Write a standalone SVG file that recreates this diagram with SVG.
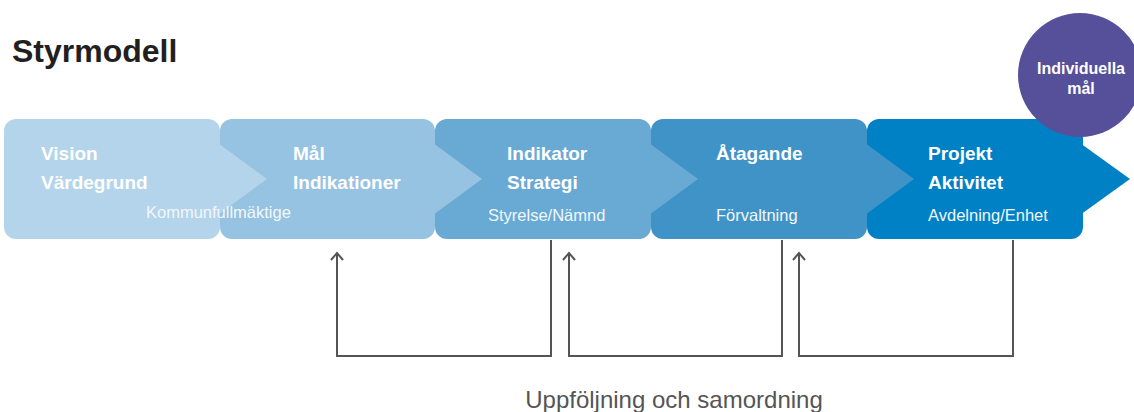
<svg xmlns="http://www.w3.org/2000/svg" width="1134" height="412" viewBox="0 0 1134 412">
<style>
.h{font-family:"Liberation Sans",Arial,sans-serif;font-weight:bold;font-size:19px;fill:#ffffff}
.s{font-family:"Liberation Sans",Arial,sans-serif;font-size:16.5px;fill:#f2f7fb}
.c{fill:none;stroke:#555555;stroke-width:2}
.ct{font-family:"Liberation Sans",Arial,sans-serif;font-weight:bold;font-size:16px;fill:#ffffff;text-anchor:middle}
</style>
<rect width="1134" height="412" fill="#ffffff"/>
<text x="12" y="62" font-family="Liberation Sans, Arial, sans-serif" font-weight="bold" font-size="32" fill="#231f20">Styrmodell</text>
<g id="node5">
<rect x="867" y="119" width="216" height="120" rx="12" fill="#0081c6"/>
<polygon points="1080,143 1130,179 1080,215" fill="#0081c6"/>
<text class="h" x="928" y="160">Projekt</text>
<text class="h" x="928" y="189">Aktivitet</text>
<text class="s" x="928" y="221">Avdelning/Enhet</text>
</g>
<g id="node4">
<rect x="651" y="119" width="216" height="120" rx="12" fill="#4093c6"/>
<polygon points="865,143 914,179 865,215" fill="#4093c6"/>
<text class="h" x="716" y="160">Åtagande</text>
<text class="s" x="716" y="221">Förvaltning</text>
</g>
<g id="node3">
<rect x="435" y="119" width="216" height="120" rx="12" fill="#68aad4"/>
<polygon points="649,143 698,179 649,215" fill="#68aad4"/>
<text class="h" x="507" y="160">Indikator</text>
<text class="h" x="507" y="189">Strategi</text>
<text class="s" x="488" y="221">Styrelse/Nämnd</text>
</g>
<g id="node2">
<rect x="220" y="119" width="215" height="120" rx="12" fill="#96c3e1"/>
<polygon points="433,143 482,179 433,215" fill="#96c3e1"/>
<text class="h" x="293" y="160">Mål</text>
<text class="h" x="293" y="189">Indikationer</text>
</g>
<g id="node1">
<rect x="4" y="119" width="216" height="120" rx="12" fill="#b3d4ea"/>
<polygon points="218,143 267,179 218,215" fill="#b3d4ea"/>
<text class="h" x="41" y="160">Vision</text>
<text class="h" x="41" y="189">Värdegrund</text>
<text class="s" x="146" y="218">Kommunfullmäktige</text>
</g>
<g id="circle">
<circle cx="1080" cy="75" r="62" fill="#56509a"/>
<text class="ct" x="1081" y="74">Individuella</text>
<text class="ct" x="1081" y="94">mål</text>
</g>
<g id="connectors">
<polyline class="c" points="551,240 551,356 337,356 337,253"/>
<polyline class="c" points="782,240 782,356 569,356 569,253"/>
<polyline class="c" points="1013,240 1013,356 799,356 799,253"/>
<polyline class="c" points="331,260 337,253 343,260"/>
<polyline class="c" points="563,260 569,253 575,260"/>
<polyline class="c" points="793,260 799,253 805,260"/>
</g>
<text x="674" y="408" text-anchor="middle" font-family="Liberation Sans, Arial, sans-serif" font-size="24" fill="#555555">Uppföljning och samordning</text>
</svg>
